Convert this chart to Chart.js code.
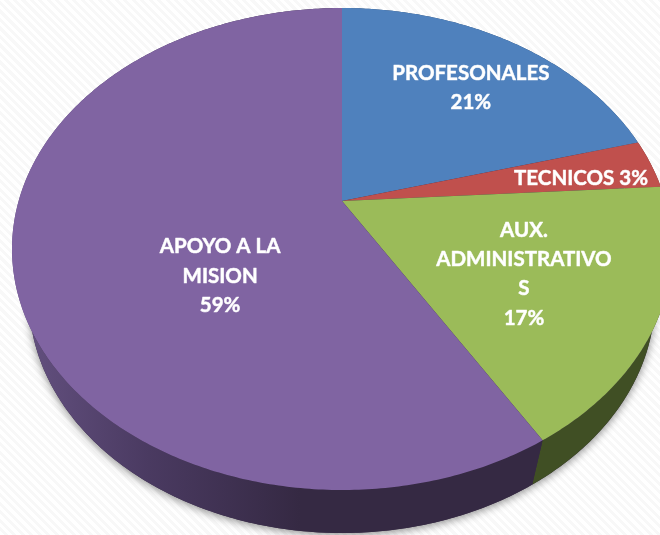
<!DOCTYPE html>
<html>
<head>
<meta charset="utf-8">
<script src="https://cdn.jsdelivr.net/npm/chart.js@4"></script>
<style>
  html, body { margin: 0; padding: 0; width: 660px; height: 535px; overflow: hidden; }
  body { background: repeating-linear-gradient(45deg, #ffffff 0 3px, #f8f8f8 3px 6px); }
  canvas { display: block; }
</style>
</head>
<body>
<canvas id="pie-chart" width="660" height="535"></canvas>
<script>
const categories = ['PROFESONALES', 'TECNICOS', 'AUX. ADMINISTRATIVOS', 'APOYO A LA MISION'];
const values = [20.7, 3.3, 17.4, 58.6];
const topColors = ['#4f81bd', '#c0504d', '#9bbb59', '#8064a2'];
const wallColors = ['#2c4a6e', '#702e2c', '#404f24', '#352943'];
const labelLines = [['PROFESONALES'], ['TECNICOS'], ['AUX.', 'ADMINISTRATIVO', 'S'], ['APOYO A LA', 'MISION']];
const labelInline = [false, true, false, false];
// where each label sits on the disc: clockwise degrees from 12 o'clock, fraction of the radius
const labelAngles = [39.1, 82.3, 119.3, 229.3];
const labelRadii = [0.70, 0.761, 0.607, 0.467];

// the two rims of the tilted disc, top face and bottom edge
const topRim = { cx: 342, cy: 249, rx: 330, ry: 241 };
const lowRim = { cx: 342, cy: 298, rx: 313, ry: 235 };
const tilt = 0.199;

// perspective view of a flat circle: the centre is pushed up the ellipse
function project(rim, theta, r) {
  const d = tilt * rim.ry;
  const A = (rim.ry - d) * (1 + tilt);
  const C = rim.rx * Math.sqrt(1 - tilt * tilt);
  const u = r * Math.sin(theta);
  const v = -r * Math.cos(theta);
  const w = 1 - tilt * v;
  return { x: rim.cx + C * u / w, y: rim.cy - d + A * v / w };
}

function rimPath(ctx, rim, from, to) {
  const steps = Math.max(2, Math.ceil(Math.abs(to - from) * 90));
  for (let i = 0; i <= steps; i++) {
    const p = project(rim, from + (to - from) * i / steps, 1);
    ctx.lineTo(p.x, p.y);
  }
}

const tiltedPie = {
  id: 'tiltedPie',
  beforeDatasetsDraw(chart) {
    const ctx = chart.ctx;
    const arcs = chart.getDatasetMeta(0).data;
    // angles come from the pie controller, 0 there means 3 o'clock
    const spans = arcs.map(a => [a.startAngle + Math.PI / 2, a.endAngle + Math.PI / 2]);

    ctx.save();
    ctx.shadowColor = 'rgba(0,0,0,0.45)';
    ctx.shadowBlur = 9;
    ctx.shadowOffsetY = 2;
    ctx.fillStyle = '#352943';
    ctx.beginPath();
    rimPath(ctx, lowRim, 0, Math.PI * 2);
    ctx.closePath();
    ctx.fill();
    ctx.restore();

    const purpleWall = ctx.createLinearGradient(25, 0, 300, 0);
    purpleWall.addColorStop(0, '#63507f');
    purpleWall.addColorStop(0.45, '#4a3a61');
    purpleWall.addColorStop(1, '#352943');

    spans.forEach((s, i) => {
      ctx.beginPath();
      rimPath(ctx, topRim, s[0], s[1]);
      rimPath(ctx, lowRim, s[1], s[0]);
      ctx.closePath();
      ctx.fillStyle = i === 3 ? purpleWall : wallColors[i];
      ctx.fill();
    });

    spans.forEach((s, i) => {
      const apex = project(topRim, 0, 0);
      ctx.beginPath();
      ctx.moveTo(apex.x, apex.y);
      rimPath(ctx, topRim, s[0], s[1]);
      ctx.closePath();
      ctx.fillStyle = topColors[i];
      ctx.fill();
    });

    ctx.fillStyle = '#ffffff';
    ctx.strokeStyle = 'rgba(255,255,255,0.8)';
    ctx.lineWidth = 0.6;
    ctx.lineJoin = 'round';
    ctx.font = 'bold 20.5px Lato';
    ctx.textAlign = 'center';
    ctx.textBaseline = 'middle';
    const lineHeight = 29.3;
    values.forEach((v, i) => {
      const pct = Math.round(v) + '%';
      const lines = labelInline[i]
        ? [labelLines[i].join(' ') + ' ' + pct]
        : labelLines[i].concat(pct);
      const spot = project(topRim, labelAngles[i] * Math.PI / 180, labelRadii[i]);
      lines.forEach((line, n) => {
        const y = spot.y + (n - (lines.length - 1) / 2) * lineHeight;
        ctx.fillText(line, spot.x, y);
        ctx.strokeText(line, spot.x, y);
      });
    });
    return false;
  }
};

new Chart(document.getElementById('pie-chart').getContext('2d'), {
  type: 'pie',
  data: {
    labels: categories,
    datasets: [{ data: values, backgroundColor: topColors, borderWidth: 0 }]
  },
  options: {
    responsive: false,
    animation: false,
    plugins: { legend: { display: false }, tooltip: { enabled: false } }
  },
  plugins: [tiltedPie]
});
</script>
</body>
</html>
